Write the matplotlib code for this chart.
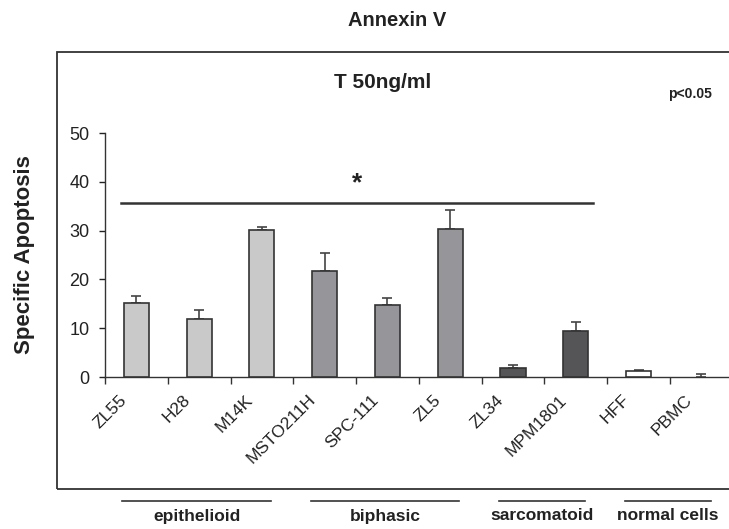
import numpy as np
import matplotlib
matplotlib.use("Agg")
import matplotlib.pyplot as plt
from matplotlib.patches import Rectangle
from matplotlib.lines import Line2D
import matplotlib.transforms as mtransforms

plt.rcParams["font.family"] = ["Liberation Sans", "DejaVu Sans"]

# ---- data ----
cell_lines = ["ZL55", "H28", "M14K", "MSTO211H", "SPC-111", "ZL5",
              "ZL34", "MPM1801", "HFF", "PBMC"]
apoptosis = [15.2, 11.9, 30.1, 21.7, 14.7, 30.3, 1.9, 9.4, 1.2, 0.05]
errors = [1.4, 1.9, 0.7, 3.7, 1.4, 4.0, 0.5, 1.8, 0.3, 0.5]
bar_colors = ["#c9c9ca", "#c9c9ca", "#c9c9ca",
              "#96969a", "#96969a", "#96969a",
              "#555557", "#555557",
              "#ffffff", "#ffffff"]
groups = ["epithelioid", "biphasic", "sarcomatoid", "normal cells"]
group_spans = [(0, 2), (3, 5), (6, 7), (8, 9)]
yticks = [0, 10, 20, 30, 40, 50]

W, H = 729, 529
fig = plt.figure(figsize=(W / 100, H / 100), dpi=100)

# outer frame (right edge runs off the image)
fig.add_artist(Rectangle((57 / W, 1 - 489 / H), 1.2, (489 - 52) / H,
                         transform=fig.transFigure, fill=False,
                         lw=1.3, edgecolor="#333333", clip_on=False))

ax = fig.add_axes([105 / W, 1 - 377 / H, 1 - 105 / W, (377 - 133) / H])
x = np.arange(len(cell_lines))
bar_lw = [1.2] * 9 + [0]
ax.bar(x, apoptosis, width=0.4, color=bar_colors, edgecolor="#333333",
       linewidth=bar_lw, zorder=3)
ax.errorbar(x, apoptosis, yerr=[np.zeros(len(errors)), errors], fmt="none",
            ecolor="#444444", elinewidth=1.2, capsize=3.5, capthick=1.2, zorder=2)

ax.set_ylim(0, 50)
ax.set_xlim(-0.5, 9.44)
ax.set_yticks(yticks)
ax.tick_params(axis="y", direction="out", length=4, width=1, pad=7,
               labelsize=13, colors="#222222")
ax.set_xticks(x)
ax.set_xticks(np.arange(len(cell_lines)) - 0.5, minor=True)
ax.tick_params(axis="x", which="major", length=0, pad=11)
ax.tick_params(axis="x", which="minor", direction="out", length=5, width=1,
               color="#333333")
offset = mtransforms.ScaledTranslation(-17 / 100, 0, fig.dpi_scale_trans)
ax.set_xticklabels(cell_lines, rotation=45, ha="right", va="top",
                   rotation_mode="anchor", fontsize=12.5, color="#222222")
for lab in ax.get_xticklabels():
    lab.set_transform(lab.get_transform() + offset)

for side in ["top", "right"]:
    ax.spines[side].set_visible(False)
for side in ["left", "bottom"]:
    ax.spines[side].set_linewidth(1)
    ax.spines[side].set_color("#333333")
ax.set_ylabel("Specific Apoptosis", fontsize=16, fontweight="bold",
              color="#222222")
ax.yaxis.set_label_coords(-0.112, 0.5)

# significance bar
ax.plot([-0.245, 7.27], [35.7, 35.7], color="#333333", lw=1.8, clip_on=False)
ax.text(3.51, 37.3, "*", ha="center", va="bottom", fontsize=19,
        fontweight="bold", color="#222222")

# titles
fig.text(397 / W, 1 - 20 / H, "Annexin V", ha="center", va="center",
         fontsize=14.5, fontweight="bold", color="#222222")
fig.text(383 / W, 1 - 82 / H, "T 50ng/ml", ha="center", va="center",
         fontsize=15, fontweight="bold", color="#222222")
fig.text(690 / W, 1 - 94 / H, "p<0.05", ha="center", va="center",
         fontsize=10, fontweight="bold", color="#222222")

# group lines and labels below the frame
to_px = lambda i: 105 + (i + 0.5) * 62.8
for name, (a, b) in zip(groups, group_spans):
    x0 = to_px(a) - 14
    x1 = to_px(b) + 9
    fig.add_artist(Line2D([x0 / W, x1 / W], [1 - 501 / H, 1 - 501 / H],
                          transform=fig.transFigure, color="#333333", lw=1.2))
    fig.text((x0 + x1) / 2 / W, 1 - 516 / H, name, ha="center", va="center",
             fontsize=12.5, fontweight="bold", color="#222222")

fig.savefig("out.png", dpi=100)
